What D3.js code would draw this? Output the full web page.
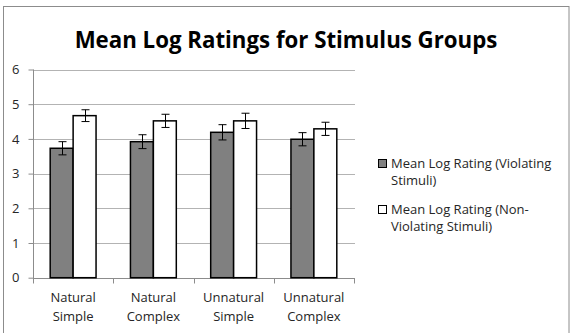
<!DOCTYPE html>
<html><head><meta charset="utf-8">
<script src="https://cdn.jsdelivr.net/npm/d3@7"></script>
<style>body{margin:0;background:#fff}svg{display:block}</style>
</head><body>
<svg id="c" width="576" height="333"></svg>
<script>
const categories = [["Natural","Simple"],["Natural","Complex"],["Unnatural","Simple"],["Unnatural","Complex"]];
const seriesNames = [["Mean Log Rating (Violating","Stimuli)"],["Mean Log Rating (Non-","Violating Stimuli)"]];
const violating = [3.73, 3.92, 4.19, 3.99];
const violatingErr = [0.19, 0.20, 0.22, 0.19];
const nonViolating = [4.67, 4.52, 4.52, 4.29];
const nonViolatingErr = [0.17, 0.19, 0.22, 0.19];
const yTicks = [0,1,2,3,4,5,6];
const title = "Mean Log Ratings for Stimulus Groups";

const font = "'Open Sans', 'Noto Sans', sans-serif";
const fs = 13;
const txtCol = "#262626";
const svg = d3.select("#c");
svg.append("rect").attr("x",3.5).attr("y",6.5).attr("width",565.5).attr("height",340)
  .attr("fill","#fff").attr("stroke","#8c8c8c").attr("stroke-width",1);

const x0 = d3.scaleBand().domain(d3.range(categories.length)).range([33,354]).paddingInner(0.4286).paddingOuter(0.2143);
const x1 = d3.scaleBand().domain([0,1]).range([0,x0.bandwidth()]);
const y = d3.scaleLinear().domain([0,6]).range([277.7,69.5]);

// grid
svg.append("g").selectAll("line").data(yTicks.slice(1)).join("line")
  .attr("x1",33).attr("x2",355).attr("y1",d=>Math.round(y(d))+0.5).attr("y2",d=>Math.round(y(d))+0.5)
  .attr("stroke","#b3b3b3").attr("stroke-width",1);

// y axis
const ya = svg.append("g").attr("transform","translate(33.5,0)")
  .call(d3.axisLeft(y).tickValues(yTicks).tickSize(5).tickPadding(9).tickFormat(d3.format("d")));
ya.select(".domain").attr("stroke","#8c8c8c").attr("d","M0,69.5V278");
ya.selectAll(".tick line").attr("stroke","#8c8c8c");
ya.selectAll("text").attr("font-family",font).attr("font-size",fs).attr("fill",txtCol);

// x axis
const xa = svg.append("g").attr("transform","translate(0,278.5)");
xa.append("line").attr("x1",33).attr("x2",355).attr("stroke","#8c8c8c");
const bounds = [...categories.map((c,i)=>x0(i)-x0.step()*x0.paddingInner()/2)];
bounds.push(354);
xa.selectAll(".t").data(bounds).join("line").attr("class","t")
  .attr("x1",d=>Math.round(d)+0.5).attr("x2",d=>Math.round(d)+0.5).attr("y1",0).attr("y2",5).attr("stroke","#8c8c8c");
const cl = xa.selectAll(".cl").data(categories).join("text").attr("class","cl")
  .attr("font-family",font).attr("font-size",fs).attr("fill",txtCol).attr("text-anchor","middle");
cl.each(function(d,i){
  const t=d3.select(this);
  d.forEach((s,j)=>t.append("tspan").attr("x",x0(i)+x0.bandwidth()/2).attr("y",23+j*19).text(s));
});

// bars
const series = [
  {vals:violating, err:violatingErr, fill:"#808080"},
  {vals:nonViolating, err:nonViolatingErr, fill:"#ffffff"}
];
series.forEach((s,si)=>{
  const g = svg.append("g");
  g.selectAll("rect").data(s.vals).join("rect")
    .attr("x",(d,i)=>x0(i)+x1(si)).attr("width",x1.bandwidth())
    .attr("y",d=>y(d)).attr("height",d=>y(0)-y(d))
    .attr("fill",s.fill).attr("stroke","#000").attr("stroke-width",1.5);
  const e = svg.append("g").attr("stroke","#000").attr("stroke-width",1);
  s.vals.forEach((v,i)=>{
    const cx = Math.round(x0(i)+x1(si)+x1.bandwidth()/2)+0.5;
    const t=y(v+s.err[i]), b=y(v-s.err[i]);
    e.append("line").attr("x1",cx).attr("x2",cx).attr("y1",t).attr("y2",b);
    e.append("line").attr("x1",cx-4).attr("x2",cx+4).attr("y1",t).attr("y2",t);
    e.append("line").attr("x1",cx-4).attr("x2",cx+4).attr("y1",b).attr("y2",b);
  });
});

// legend
const lg = svg.append("g");
seriesNames.forEach((nm,i)=>{
  const yy = 159 + i*46;
  lg.append("rect").attr("x",378.5).attr("y",yy+0.5).attr("width",8).attr("height",8)
    .attr("fill",series[i].fill).attr("stroke","#000").attr("stroke-width",1);
  const t = lg.append("text").attr("font-family",font).attr("font-size",fs).attr("fill",txtCol);
  nm.forEach((s,j)=>t.append("tspan").attr("x",391).attr("y",yy+9+j*17).text(s));
});

// title
const tt = svg.append("text").attr("x",286).attr("y",48).attr("text-anchor","middle")
  .attr("font-family",font).attr("font-weight","bold").attr("font-size",22).attr("fill","#000").text(title);
const w = tt.node().getComputedTextLength();
tt.attr("font-size", 22*423/w);
</script>
</body></html>
